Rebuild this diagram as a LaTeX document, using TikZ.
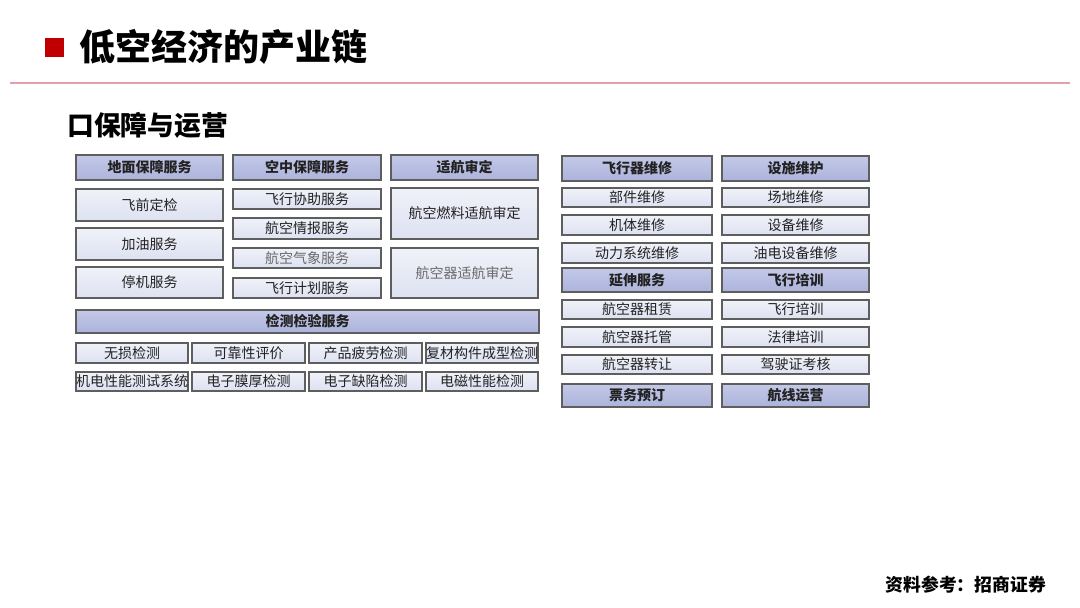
\documentclass[tikz,border=0pt]{standalone}
\usepackage{fontspec}
\setmainfont{Noto Sans CJK SC}
\definecolor{titlered}{HTML}{C00000}
\definecolor{rulepink}{HTML}{DFA0AB}
\definecolor{hdrtop}{HTML}{C4C9E8}
\definecolor{hdrbot}{HTML}{ACB3DB}
\definecolor{bodytop}{HTML}{F0F2F9}
\definecolor{bodybot}{HTML}{DDE1F1}
\definecolor{edge}{HTML}{5E5E5E}
\definecolor{txt}{HTML}{222222}
\definecolor{pale}{HTML}{6A6A6A}
\tikzset{
  cell/.style={rectangle, draw=edge, line width=1.3pt, inner sep=0pt, text=txt,
     font=\fontsize{14}{15}\selectfont},
  hdr/.style={cell, top color=hdrtop, bottom color=hdrbot, font=\fontsize{14}{15}\selectfont\bfseries},
  bx/.style={cell, top color=bodytop, bottom color=bodybot},
  sz/.style 2 args={minimum width=#1pt, minimum height=#2pt},
}
\begin{document}
\begin{tikzpicture}[x=1pt,y=-1pt]
\useasboundingbox (0,0) rectangle (1080,608);
\fill[white] (0,0) rectangle (1080,608);
% title
\node[fill=titlered, minimum size=19pt, inner sep=0pt] (sq) at (54.5,47.5) {};
\node[anchor=west, inner sep=0pt, font=\fontsize{36}{37}\selectfont\bfseries] (title) at (79,47) {低空经济的产业链};
\coordinate (rl) at (10,83);
\coordinate (rr) at (1070,83);
\draw[rulepink, line width=1.5pt] (rl) -- (rr);
\node[anchor=west, inner sep=0pt, font=\fontsize{26.8}{27}\selectfont\bfseries] (sub) at (67,125) {口保障与运营};
% column 1
\node[hdr, sz={147}{25}] (h1) at (149.5,167.5) {地面保障服务};
\node[bx, sz={147}{32}] (a1) at (149.5,205) {飞前定检};
\node[bx, sz={147}{32}] (a2) at (149.5,244) {加油服务};
\node[bx, sz={147}{31}] (a3) at (149.5,282.5) {停机服务};
% column 2
\node[hdr, sz={148}{25}] (h2) at (307,167.5) {空中保障服务};
\node[bx, sz={148}{20}] (b1) at (307,199) {飞行协助服务};
\node[bx, sz={148}{21}] (b2) at (307,228.5) {航空情报服务};
\node[bx, sz={148}{20}, text=pale] (b3) at (307,258) {航空气象服务};
\node[bx, sz={148}{20}] (b4) at (307,288) {飞行计划服务};
% column 3
\node[hdr, sz={147}{25}] (h3) at (464.5,167.5) {适航审定};
\node[bx, sz={147}{51}] (c1) at (464.5,213.5) {航空燃料适航审定};
\node[bx, sz={147}{50}, text=pale] (c2) at (464.5,273) {航空器适航审定};
% inspection
\node[hdr, sz={463}{23}] (h4) at (307.5,321.5) {检测检验服务};
\node[bx, sz={112}{20}] (d1) at (132,353) {无损检测};
\node[bx, sz={113}{20}] (d2) at (248.5,353) {可靠性评价};
\node[bx, sz={113}{20}] (d3) at (365.5,353) {产品疲劳检测};
\node[bx, sz={112}{20}] (d4) at (482,353) {复材构件成型检测};
\node[bx, sz={112}{19}] (e1) at (132,381.5) {机电性能测试系统};
\node[bx, sz={113}{19}] (e2) at (248.5,381.5) {电子膜厚检测};
\node[bx, sz={113}{19}] (e3) at (365.5,381.5) {电子缺陷检测};
\node[bx, sz={112}{19}] (e4) at (482,381.5) {电磁性能检测};
% right column A
\node[hdr, sz={150}{25}] (h5) at (637,168.5) {飞行器维修};
\node[bx, sz={150}{19}] (f1) at (637,197.5) {部件维修};
\node[bx, sz={150}{20}] (f2) at (637,225) {机体维修};
\node[bx, sz={150}{20}] (f3) at (637,253) {动力系统维修};
\node[hdr, sz={150}{24}] (h6) at (637,280) {延伸服务};
\node[bx, sz={150}{19}] (g1) at (637,309.5) {航空器租赁};
\node[bx, sz={150}{20}] (g2) at (637,337) {航空器托管};
\node[bx, sz={150}{19}] (g3) at (637,364.5) {航空器转让};
\node[hdr, sz={150}{23}] (h7) at (637,395.5) {票务预订};
% right column B
\node[hdr, sz={147}{25}] (h8) at (795.5,168.5) {设施维护};
\node[bx, sz={147}{19}] (k1) at (795.5,197.5) {场地维修};
\node[bx, sz={147}{20}] (k2) at (795.5,225) {设备维修};
\node[bx, sz={147}{20}] (k3) at (795.5,253) {油电设备维修};
\node[hdr, sz={147}{24}] (h9) at (795.5,280) {飞行培训};
\node[bx, sz={147}{19}] (m1) at (795.5,309.5) {飞行培训};
\node[bx, sz={147}{20}] (m2) at (795.5,337) {法律培训};
\node[bx, sz={147}{19}] (m3) at (795.5,364.5) {驾驶证考核};
\node[hdr, sz={147}{23}] (h10) at (795.5,395.5) {航线运营};
% footer
\node[anchor=east, inner sep=0pt, font=\fontsize{17.8}{18}\selectfont\bfseries] (src) at (1046,585) {资料参考：招商证券};
\end{tikzpicture}
\end{document}
